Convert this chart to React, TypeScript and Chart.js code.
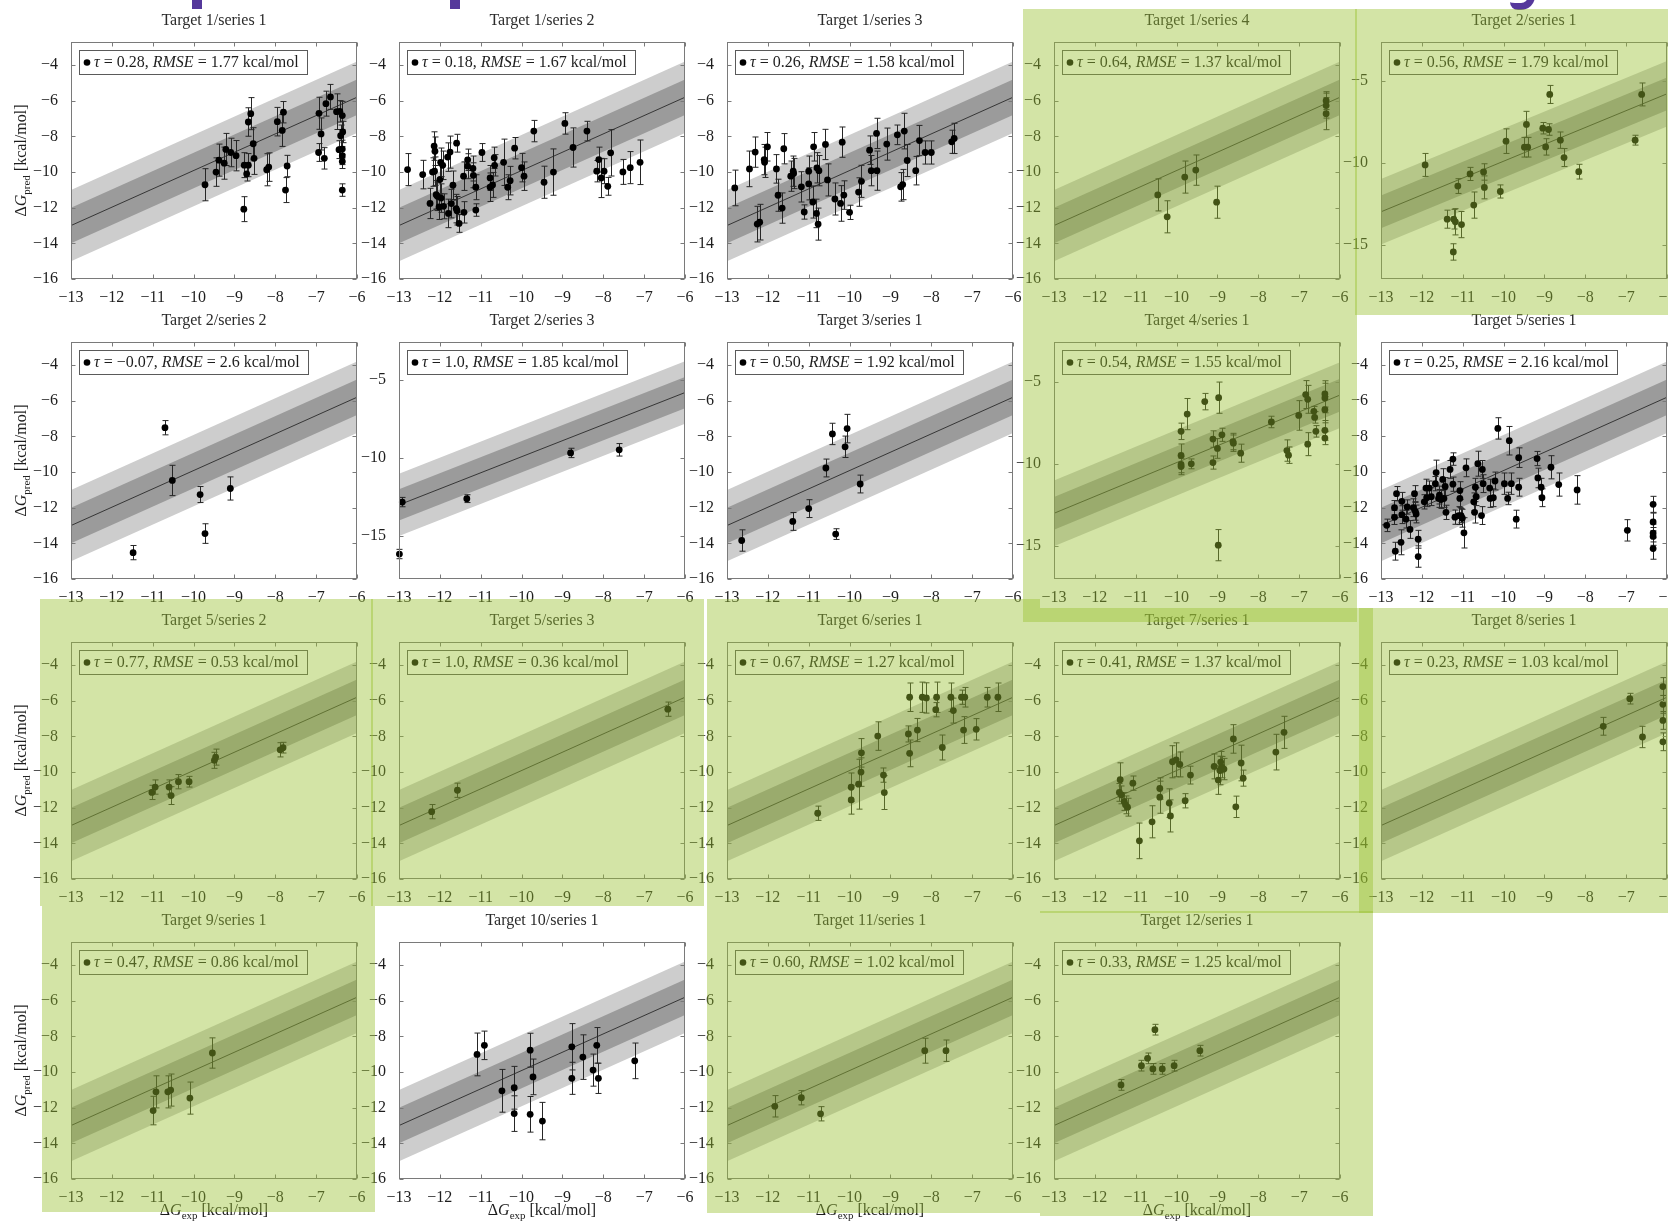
import React, { useEffect, useRef } from "react";
import { Chart, registerables } from "chart.js";

Chart.register(...registerables);

const SERIF = "'Liberation Serif', 'DejaVu Serif', 'Times New Roman', serif";
const INK = "#1d1d1d";
const FRAME = "#7a7a7a";

// ---------- axes ----------
const xTickValues = [-13, -12, -11, -10, -9, -8, -7, -6];
const yTicksFine = [-16, -14, -12, -10, -8, -6, -4];
const yTicksCoarse = [-15, -10, -5];
const xRange = [-13, -6];

// ---------- reference line and confidence bands ----------
const fitX = [-13, -6];
const fitY = [-13, -5.8];
const bandHalfWidths = [1, 2];

// ---------- data (exp, pred, error) ----------
const t1s1Exp = [-9.72, -9.45, -9.38, -9.25, -9.21, -9.09, -8.96, -8.77, -8.76, -8.7, -8.66, -8.66, -8.6, -8.54, -8.52, -8.21, -8.16, -7.95, -7.83, -7.8, -7.75, -7.71, -6.93, -6.94, -6.88, -6.8, -6.76, -6.65, -6.5, -6.44, -6.42, -6.4, -6.36, -6.35, -6.36, -6.36, -6.36, -6.36];
const t1s1Pred = [-10.71, -10.0, -9.33, -9.5, -8.73, -8.9, -9.08, -12.08, -9.61, -10.1, -9.61, -7.19, -6.72, -8.41, -9.23, -9.87, -9.72, -7.17, -7.66, -6.64, -11.01, -9.66, -6.7, -8.9, -7.86, -9.23, -6.16, -5.78, -6.61, -8.74, -6.59, -7.96, -6.83, -7.75, -8.71, -9.08, -9.4, -11.01];
const t1s1Err = [0.9, 0.8, 0.9, 0.9, 0.9, 0.8, 0.85, 0.7, 0.7, 0.4, 0.65, 0.8, 0.9, 0.9, 0.9, 0.9, 0.8, 0.8, 0.9, 0.6, 0.7, 0.6, 0.9, 0.5, 0.9, 0.6, 0.7, 0.7, 1.0, 0.5, 0.6, 0.6, 0.8, 0.6, 0.5, 0.5, 0.4, 0.35];

const t1s2Exp = [-12.79, -12.42, -12.24, -12.18, -12.14, -12.12, -12.13, -12.09, -12.06, -12.02, -12.0, -11.98, -11.93, -11.97, -11.91, -11.79, -11.81, -11.75, -11.72, -11.68, -11.6, -11.58, -11.59, -11.53, -11.42, -11.41, -11.32, -11.32, -11.19, -11.18, -11.12, -11.12, -10.97, -10.77, -10.77, -10.71, -10.67, -10.66, -10.44, -10.34, -10.28, -10.17, -10.0, -9.94, -9.7, -9.45, -9.22, -8.94, -8.74, -8.4, -8.16, -8.11, -8.05, -7.98, -7.89, -7.82, -7.52, -7.34, -7.1];
const t1s2Pred = [-9.86, -10.14, -11.76, -10.0, -8.54, -8.83, -9.95, -11.27, -11.36, -11.96, -10.42, -9.45, -9.62, -11.46, -11.92, -12.32, -9.16, -8.88, -11.77, -10.74, -12.05, -12.17, -8.38, -12.88, -10.23, -12.26, -9.31, -9.67, -9.8, -10.18, -10.85, -12.13, -8.9, -10.33, -10.85, -10.72, -9.2, -9.62, -9.45, -10.85, -10.48, -8.66, -9.75, -10.23, -7.7, -10.57, -10.0, -7.27, -8.62, -7.7, -9.95, -9.3, -10.33, -9.95, -10.8, -8.92, -9.99, -9.75, -9.45];
const t1s2Err = [0.9, 0.8, 0.85, 0.8, 0.8, 0.8, 0.8, 0.8, 0.8, 0.7, 0.8, 0.8, 0.8, 0.8, 0.7, 0.8, 0.8, 0.9, 0.8, 0.8, 0.8, 0.8, 0.5, 0.5, 0.8, 0.6, 0.6, 0.7, 0.7, 0.7, 0.7, 0.35, 0.5, 0.7, 0.8, 0.7, 0.6, 0.6, 1.3, 0.7, 0.8, 0.6, 0.8, 0.8, 0.6, 0.9, 1.3, 0.6, 1.1, 0.55, 0.6, 0.7, 1.1, 0.7, 0.5, 1.3, 0.7, 0.9, 1.25];

const t1s3Exp = [-12.81, -12.45, -12.31, -12.26, -12.2, -12.09, -12.08, -12.01, -11.79, -11.75, -11.65, -11.61, -11.44, -11.38, -11.37, -11.18, -11.11, -11.0, -11.0, -10.9, -10.88, -10.81, -10.77, -10.8, -10.75, -10.59, -10.54, -10.36, -10.22, -10.18, -10.14, -10.0, -9.78, -9.71, -9.51, -9.47, -9.34, -9.33, -9.09, -8.83, -8.75, -8.7, -8.66, -8.59, -8.38, -8.29, -8.15, -8.0, -7.5, -7.44];
const t1s3Pred = [-10.89, -9.82, -8.88, -12.92, -12.81, -9.3, -9.45, -8.58, -9.82, -11.3, -12.02, -8.69, -10.23, -9.95, -10.08, -10.83, -12.24, -10.66, -9.95, -11.68, -8.58, -12.32, -12.92, -9.76, -9.92, -8.45, -10.44, -11.51, -11.76, -8.32, -11.29, -12.26, -11.12, -10.52, -8.77, -9.92, -7.83, -9.92, -8.43, -7.91, -10.83, -10.7, -7.7, -9.35, -9.92, -8.23, -8.9, -8.9, -8.3, -8.11];
const t1s3Err = [1.0, 1.0, 0.85, 1.0, 1.0, 0.85, 0.85, 0.8, 0.8, 0.9, 0.85, 0.85, 0.85, 0.85, 0.85, 0.85, 0.4, 0.9, 0.85, 0.9, 0.8, 0.8, 0.9, 0.85, 0.85, 0.85, 0.9, 0.9, 1.0, 0.85, 0.8, 0.4, 0.8, 0.9, 0.8, 0.85, 0.85, 1.1, 0.9, 0.55, 0.8, 0.85, 1.0, 0.9, 0.8, 0.85, 0.65, 0.65, 0.65, 0.85];

const t1s4Exp = [-10.46, -10.23, -9.8, -9.53, -9.02, -6.34, -6.34, -6.34];
const t1s4Pred = [-11.28, -12.51, -10.28, -9.89, -11.69, -5.99, -6.27, -6.72];
const t1s4Err = [0.9, 0.9, 0.9, 0.85, 0.9, 0.5, 0.7, 0.9];

const t2s1Exp = [-11.92, -11.38, -11.22, -11.18, -11.12, -11.03, -11.23, -10.82, -10.73, -10.49, -10.47, -10.08, -9.94, -9.49, -9.44, -9.41, -9.04, -8.97, -8.9, -8.87, -8.61, -8.52, -8.16, -6.78, -6.62];
const t2s1Pred = [-10.14, -13.45, -13.45, -13.61, -11.43, -13.78, -15.45, -10.69, -12.59, -10.57, -11.51, -11.76, -8.69, -9.06, -7.67, -9.06, -7.9, -9.04, -7.98, -5.84, -8.63, -9.69, -10.55, -8.63, -5.84];
const t2s1Err = [0.7, 0.55, 0.6, 0.8, 0.45, 0.8, 0.5, 0.4, 0.8, 0.5, 0.7, 0.4, 0.75, 0.6, 0.8, 0.6, 0.35, 0.5, 0.35, 0.55, 0.5, 0.55, 0.45, 0.3, 0.7];

const t2s2Exp = [-11.48, -10.7, -10.52, -9.84, -9.72, -9.1];
const t2s2Pred = [-14.52, -7.51, -10.47, -11.26, -13.45, -10.92];
const t2s2Err = [0.4, 0.4, 0.85, 0.45, 0.55, 0.65];

const t2s3Exp = [-12.99, -12.92, -11.34, -8.8, -7.61];
const t2s3Pred = [-16.15, -12.82, -12.6, -9.67, -9.47];
const t2s3Err = [0.3, 0.3, 0.25, 0.3, 0.4];

const t3s1Exp = [-12.64, -11.39, -11.0, -10.58, -10.42, -10.34, -10.11, -10.06, -9.74];
const t3s1Pred = [-13.84, -12.77, -12.05, -9.77, -7.86, -13.48, -8.58, -7.56, -10.67];
const t3s1Err = [0.6, 0.5, 0.5, 0.5, 0.6, 0.3, 0.6, 0.8, 0.5];

const t4s1Exp = [-9.89, -9.89, -9.89, -9.89, -9.74, -9.64, -9.31, -9.11, -9.11, -9.0, -8.97, -8.89, -8.98, -8.62, -8.61, -8.43, -7.68, -7.3, -7.26, -7.01, -6.84, -6.79, -6.79, -6.64, -6.62, -6.59, -6.37, -6.37, -6.37, -6.37, -6.37];
const t4s1Pred = [-8.01, -9.48, -10.03, -10.15, -6.96, -9.99, -6.2, -8.48, -9.91, -9.05, -5.96, -8.22, -14.94, -8.63, -8.73, -9.34, -7.44, -9.18, -9.46, -7.04, -5.77, -6.06, -8.79, -6.79, -7.16, -8.01, -5.73, -5.98, -6.69, -7.95, -8.42];
const t4s1Err = [0.5, 0.7, 0.5, 0.5, 0.95, 0.3, 0.5, 0.5, 0.4, 0.6, 0.95, 0.4, 0.95, 0.5, 0.5, 0.55, 0.35, 0.65, 0.5, 0.9, 0.85, 0.85, 0.7, 0.3, 0.35, 0.35, 0.8, 0.9, 0.8, 0.6, 0.4];

const t5s1Exp = [-12.86, -12.67, -12.67, -12.65, -12.62, -12.51, -12.49, -12.49, -12.39, -12.36, -12.29, -12.21, -12.18, -12.16, -12.14, -12.09, -12.09, -11.94, -11.9, -11.88, -11.82, -11.77, -11.67, -11.65, -11.59, -11.57, -11.53, -11.49, -11.46, -11.43, -11.41, -11.31, -11.24, -11.24, -11.19, -11.1, -11.07, -11.07, -11.04, -11.01, -10.97, -10.92, -10.73, -10.71, -10.69, -10.67, -10.63, -10.54, -10.52, -10.5, -10.34, -10.33, -10.25, -10.21, -10.14, -9.98, -9.9, -9.86, -9.81, -9.69, -9.63, -9.63, -9.18, -9.16, -9.08, -9.06, -8.84, -8.65, -8.2, -6.97, -6.34, -6.34, -6.34, -6.34, -6.34];
const t5s1Pred = [-12.99, -12.0, -12.54, -14.44, -11.21, -13.94, -11.64, -12.39, -12.64, -11.96, -13.22, -12.0, -11.21, -12.2, -12.35, -13.77, -14.74, -11.67, -10.9, -11.44, -10.9, -11.38, -10.65, -10.03, -11.48, -11.29, -11.54, -10.41, -11.48, -10.81, -12.26, -9.85, -9.27, -10.68, -12.53, -12.44, -11.04, -11.48, -12.44, -12.59, -13.41, -9.76, -11.67, -12.26, -10.85, -11.38, -9.53, -12.44, -9.85, -10.65, -10.9, -11.48, -11.44, -10.5, -7.55, -10.65, -11.48, -8.24, -10.65, -12.64, -9.19, -10.85, -9.24, -10.33, -10.85, -11.44, -9.73, -10.7, -11.0, -13.27, -11.81, -12.8, -13.42, -13.61, -14.29];
const t5s1Err = [0.35, 0.4, 0.4, 0.5, 0.4, 0.7, 0.5, 0.5, 0.5, 0.4, 0.5, 0.5, 0.45, 0.5, 0.5, 0.5, 0.6, 0.4, 0.5, 0.5, 0.4, 0.5, 0.4, 0.7, 0.5, 0.5, 0.5, 0.6, 0.5, 0.5, 0.4, 0.5, 0.35, 0.4, 0.4, 0.5, 0.5, 0.5, 0.4, 0.5, 0.85, 0.5, 0.5, 0.6, 0.5, 0.5, 0.7, 0.5, 0.5, 0.5, 0.5, 0.5, 0.5, 0.5, 0.6, 0.6, 0.35, 0.8, 0.6, 0.5, 0.55, 0.5, 0.4, 0.55, 0.5, 0.5, 0.65, 0.65, 0.8, 0.6, 0.45, 0.5, 0.5, 0.5, 0.6];

const t5s2Exp = [-11.02, -10.94, -10.6, -10.55, -10.37, -10.11, -9.49, -9.46, -7.88, -7.81];
const t5s2Pred = [-11.14, -10.84, -10.84, -11.32, -10.54, -10.54, -9.34, -9.16, -8.75, -8.63];
const t5s2Err = [0.4, 0.4, 0.4, 0.5, 0.4, 0.3, 0.45, 0.45, 0.4, 0.3];

const t5s3Exp = [-12.2, -11.57, -6.42];
const t5s3Pred = [-12.22, -11.02, -6.47];
const t5s3Err = [0.4, 0.4, 0.4];

const t6s1Exp = [-10.78, -9.96, -9.96, -9.78, -9.72, -9.71, -9.31, -9.17, -9.15, -8.56, -8.53, -8.53, -8.34, -8.22, -8.12, -7.89, -7.87, -7.73, -7.52, -7.46, -7.26, -7.21, -7.18, -6.9, -6.63, -6.37];
const t6s1Pred = [-12.31, -10.85, -11.56, -10.68, -10.0, -8.92, -7.98, -10.17, -11.15, -7.86, -8.95, -5.8, -7.64, -5.8, -5.84, -6.5, -5.8, -8.62, -5.8, -6.55, -5.8, -7.64, -5.8, -7.6, -5.8, -5.8];
const t6s1Err = [0.4, 0.8, 0.8, 1.4, 0.8, 0.8, 0.8, 0.4, 0.95, 0.45, 0.75, 0.8, 0.65, 0.85, 0.85, 0.4, 0.85, 0.7, 0.8, 0.7, 0.4, 0.75, 0.55, 0.6, 0.55, 0.8];

const t7s1Exp = [-11.38, -11.4, -11.35, -11.28, -11.25, -11.2, -11.07, -10.91, -10.6, -10.41, -10.41, -10.18, -10.15, -10.1, -10.01, -9.92, -9.79, -9.66, -9.08, -8.98, -8.94, -8.92, -8.89, -8.84, -8.61, -8.55, -8.42, -8.37, -7.57, -7.37];
const t7s1Pred = [-10.43, -11.14, -11.28, -11.65, -11.84, -11.97, -10.62, -13.86, -12.79, -10.92, -11.41, -11.74, -12.46, -9.42, -9.31, -9.57, -11.61, -10.17, -9.68, -10.45, -9.91, -9.44, -9.72, -9.83, -8.14, -11.95, -9.49, -10.34, -8.88, -7.77];
const t7s1Err = [0.95, 0.5, 0.5, 0.5, 0.5, 0.5, 0.4, 1.0, 0.9, 0.6, 0.9, 0.8, 0.9, 0.9, 0.95, 0.7, 0.4, 0.5, 0.7, 0.8, 0.8, 0.6, 0.6, 0.6, 0.8, 0.6, 1.0, 0.45, 1.0, 0.9];

const t8s1Exp = [-7.56, -6.91, -6.6, -6.1, -6.1, -6.1, -6.1];
const t8s1Pred = [-7.43, -5.88, -8.03, -5.2, -6.2, -7.1, -8.3];
const t8s1Err = [0.5, 0.3, 0.6, 0.5, 0.5, 0.5, 0.5];

const t9s1Exp = [-10.99, -10.92, -10.63, -10.56, -10.09, -9.54];
const t9s1Pred = [-12.16, -11.11, -11.11, -11.01, -11.46, -8.93];
const t9s1Err = [0.8, 0.9, 0.9, 0.9, 0.9, 0.85];

const t10s1Exp = [-11.09, -10.91, -10.48, -10.18, -10.18, -9.79, -9.79, -9.72, -9.49, -8.77, -8.77, -8.5, -8.25, -8.16, -8.12, -7.23];
const t10s1Pred = [-9.01, -8.5, -11.05, -10.88, -12.33, -8.77, -12.37, -10.27, -12.75, -8.58, -10.35, -9.16, -9.89, -8.5, -10.35, -9.37];
const t10s1Err = [1.2, 0.8, 1.2, 1.2, 1.0, 0.95, 1.0, 1.0, 1.05, 1.3, 0.9, 1.25, 0.9, 1.0, 0.85, 1.0];

const t11s1Exp = [-11.83, -11.18, -10.71, -8.16, -7.64];
const t11s1Pred = [-11.92, -11.44, -12.34, -8.8, -8.8];
const t11s1Err = [0.6, 0.4, 0.4, 0.7, 0.6];

const t12s1Exp = [-11.36, -10.86, -10.71, -10.53, -10.58, -10.35, -10.06, -9.43];
const t12s1Pred = [-10.72, -9.64, -9.23, -7.62, -9.82, -9.82, -9.64, -8.8];
const t12s1Err = [0.3, 0.3, 0.3, 0.3, 0.3, 0.3, 0.3, 0.3];

// ---------- panel descriptors (row-major) ----------
const panelTitles = [
  "Target 1/series 1", "Target 1/series 2", "Target 1/series 3", "Target 1/series 4", "Target 2/series 1",
  "Target 2/series 2", "Target 2/series 3", "Target 3/series 1", "Target 4/series 1", "Target 5/series 1",
  "Target 5/series 2", "Target 5/series 3", "Target 6/series 1", "Target 7/series 1", "Target 8/series 1",
  "Target 9/series 1", "Target 10/series 1", "Target 11/series 1", "Target 12/series 1",
];
const panelTau = ["0.28", "0.18", "0.26", "0.64", "0.56", "\u22120.07", "1.0", "0.50", "0.54", "0.25", "0.77", "1.0", "0.67", "0.41", "0.23", "0.47", null, "0.60", "0.33"];
const panelRmse = ["1.77", "1.67", "1.58", "1.37", "1.79", "2.6", "1.85", "1.92", "1.55", "2.16", "0.53", "0.36", "1.27", "1.37", "1.03", "0.86", null, "1.02", "1.25"];
const panelYMin = [-16, -16, -16, -16, -17.1, -16, -17.75, -16, -17.0, -16, -16, -16, -16, -16, -16, -16, -16, -16, -16];
const panelYMax = [-2.7, -2.7, -2.7, -2.7, -2.64, -2.7, -2.56, -2.7, -2.57, -2.7, -2.7, -2.7, -2.7, -2.7, -2.7, -2.7, -2.7, -2.7, -2.7];
const panelYTicks = [
  yTicksFine, yTicksFine, yTicksFine, yTicksFine, yTicksCoarse,
  yTicksFine, yTicksCoarse, yTicksFine, yTicksCoarse, yTicksFine,
  yTicksFine, yTicksFine, yTicksFine, yTicksFine, yTicksFine,
  yTicksFine, yTicksFine, yTicksFine, yTicksFine,
];
const panelExp = [t1s1Exp, t1s2Exp, t1s3Exp, t1s4Exp, t2s1Exp, t2s2Exp, t2s3Exp, t3s1Exp, t4s1Exp, t5s1Exp, t5s2Exp, t5s3Exp, t6s1Exp, t7s1Exp, t8s1Exp, t9s1Exp, t10s1Exp, t11s1Exp, t12s1Exp];
const panelPred = [t1s1Pred, t1s2Pred, t1s3Pred, t1s4Pred, t2s1Pred, t2s2Pred, t2s3Pred, t3s1Pred, t4s1Pred, t5s1Pred, t5s2Pred, t5s3Pred, t6s1Pred, t7s1Pred, t8s1Pred, t9s1Pred, t10s1Pred, t11s1Pred, t12s1Pred];
const panelErr = [t1s1Err, t1s2Err, t1s3Err, t1s4Err, t2s1Err, t2s2Err, t2s3Err, t3s1Err, t4s1Err, t5s1Err, t5s2Err, t5s3Err, t6s1Err, t7s1Err, t8s1Err, t9s1Err, t10s1Err, t11s1Err, t12s1Err];

// ---------- layout ----------
const COL_LEFT = [71, 399, 727, 1054, 1381];
const ROW_TOP = [42, 342, 642, 942];
const PLOT_W = 286;
const PLOT_H = 237;
const AXIS_W = 70;
const TITLE_H = 42;
const XAXIS_H = 50;
const CW = AXIS_W + PLOT_W + AXIS_W;
const CH = TITLE_H + PLOT_H + XAXIS_H;

// highlight overlays [left, top, right, bottom]
const overlays = [
  [1023, 9, 1357, 622],
  [1355, 9, 1668, 315],
  [40, 599, 373, 906],
  [371, 599, 704, 906],
  [707, 599, 1040, 1213],
  [1040, 608, 1373, 913],
  [1359, 608, 1668, 913],
  [42, 906, 375, 1212],
  [1040, 911, 1373, 1216],
];
const OVERLAY_COLOR = "rgba(153, 192, 48, 0.43)";
const PURPLE = "#55389b";

// ---------- text helpers ----------
type Part = [string, "n" | "i" | "s"];
function partFont(style: string, size: number) {
  if (style === "i") return `italic ${size}px ${SERIF}`;
  if (style === "s") return `${Math.round(size * 0.7)}px ${SERIF}`;
  return `${size}px ${SERIF}`;
}
function measureRich(ctx: CanvasRenderingContext2D, parts: Part[], size: number) {
  let w = 0;
  for (const [t, s] of parts) {
    ctx.font = partFont(s, size);
    w += ctx.measureText(t).width;
  }
  return w;
}
function drawRich(ctx: CanvasRenderingContext2D, parts: Part[], x: number, y: number, size: number) {
  ctx.textAlign = "left";
  ctx.textBaseline = "middle";
  let cx = x;
  for (const [t, s] of parts) {
    ctx.font = partFont(s, size);
    ctx.fillText(t, cx, s === "s" ? y + size * 0.3 : y);
    cx += ctx.measureText(t).width;
  }
}
const fmtTick = (v: number) => (v < 0 ? "\u2212" + Math.abs(v) : String(v));

function Panel({ idx }: { idx: number }) {
  const ref = useRef<HTMLCanvasElement>(null);
  const col = idx % 5;
  const row = Math.floor(idx / 5);

  useEffect(() => {
    const canvas = ref.current;
    if (!canvas) return;
    const yTicks = panelYTicks[idx];
    const tau = panelTau[idx];
    const rmse = panelRmse[idx];
    const pts = panelExp[idx].map((x, i) => ({ x, y: panelPred[idx][i], e: panelErr[idx][i] }));
    const band = (off: number) => fitX.map((x, i) => ({ x, y: fitY[i] + off }));

    const decor = {
      id: "decor",
      beforeDatasetDraw(chart: any, args: any) {
        if (args.index !== 0) return;
        const { ctx, scales } = chart;
        const xs = scales.x;
        const ys = scales.y;
        ctx.save();
        ctx.strokeStyle = "#262626";
        ctx.lineWidth = 1;
        ctx.beginPath();
        for (const p of pts) {
          const px = Math.round(xs.getPixelForValue(p.x)) + 0.5;
          const t = ys.getPixelForValue(p.y + p.e);
          const b = ys.getPixelForValue(p.y - p.e);
          ctx.moveTo(px, t);
          ctx.lineTo(px, b);
          ctx.moveTo(px - 3, t);
          ctx.lineTo(px + 3, t);
          ctx.moveTo(px - 3, b);
          ctx.lineTo(px + 3, b);
        }
        ctx.stroke();
        ctx.restore();
      },
      afterDatasetsDraw(chart: any) {
        const { ctx, chartArea: a, scales } = chart;
        const xs = scales.x;
        const ys = scales.y;
        ctx.save();
        ctx.strokeStyle = FRAME;
        ctx.lineWidth = 1;
        const L = Math.round(a.left) + 0.5;
        const R = Math.round(a.right) - 0.5;
        const T = Math.round(a.top) + 0.5;
        const B = Math.round(a.bottom) - 0.5;
        ctx.strokeRect(L, T, R - L, B - T);
        ctx.beginPath();
        for (const v of xTickValues) {
          const px = Math.round(xs.getPixelForValue(v)) + 0.5;
          ctx.moveTo(px, B);
          ctx.lineTo(px, B - 4);
          ctx.moveTo(px, T);
          ctx.lineTo(px, T + 4);
        }
        for (const v of yTicks) {
          const py = Math.round(ys.getPixelForValue(v)) + 0.5;
          ctx.moveTo(L, py);
          ctx.lineTo(L + 4, py);
          ctx.moveTo(R, py);
          ctx.lineTo(R - 4, py);
        }
        ctx.stroke();

        if (tau !== null) {
          const parts: Part[] = [["\u03c4", "i"], [" = " + tau + ", ", "n"], ["RMSE", "i"], [" = " + rmse + " kcal/mol", "n"]];
          const size = 16;
          const tw = measureRich(ctx, parts, size);
          const bx = Math.round(a.left) + 8;
          const by = Math.round(a.top) + 8;
          const bw = Math.round(15 + tw + 8);
          const bh = 24;
          ctx.fillStyle = "#ffffff";
          ctx.fillRect(bx, by, bw, bh);
          ctx.strokeStyle = "#5a5a5a";
          ctx.strokeRect(bx + 0.5, by + 0.5, bw, bh);
          ctx.fillStyle = "#000";
          ctx.beginPath();
          ctx.arc(bx + 8, by + 12.5, 3.3, 0, Math.PI * 2);
          ctx.fill();
          ctx.fillStyle = INK;
          drawRich(ctx, parts, bx + 15, by + 13, size);
        }
        ctx.restore();
      },
      afterDraw(chart: any) {
        const { ctx, chartArea: a } = chart;
        ctx.save();
        ctx.fillStyle = INK;
        if (col === 0) {
          const parts: Part[] = [["\u0394", "n"], ["G", "i"], ["pred", "s"], [" [kcal/mol]", "n"]];
          const w = measureRich(ctx, parts, 16);
          ctx.translate(a.left - 49, (a.top + a.bottom) / 2);
          ctx.rotate(-Math.PI / 2);
          drawRich(ctx, parts, -w / 2, 0, 16);
          ctx.setTransform(1, 0, 0, 1, 0, 0);
        }
        if (row === 3) {
          const parts: Part[] = [["\u0394", "n"], ["G", "i"], ["exp", "s"], [" [kcal/mol]", "n"]];
          const w = measureRich(ctx, parts, 16);
          drawRich(ctx, parts, (a.left + a.right) / 2 - w / 2, a.bottom + 32, 16);
        }
        ctx.restore();
      },
    };

    const chart = new Chart(canvas, {
      type: "scatter",
      data: {
        datasets: [
          {
            data: pts,
            pointRadius: 3.4,
            pointBackgroundColor: "#000",
            pointBorderWidth: 0,
            pointBorderColor: "#000",
            showLine: false,
            clip: false,
          } as any,
          { data: band(0), showLine: true, borderColor: "#2a2a2a", borderWidth: 0.9, pointRadius: 0, fill: false } as any,
          { data: band(bandHalfWidths[0]), showLine: true, borderColor: "transparent", borderWidth: 0, pointRadius: 0, fill: "+1", backgroundColor: "#9b9b9b" } as any,
          { data: band(-bandHalfWidths[0]), showLine: true, borderColor: "transparent", borderWidth: 0, pointRadius: 0, fill: false } as any,
          { data: band(bandHalfWidths[1]), showLine: true, borderColor: "transparent", borderWidth: 0, pointRadius: 0, fill: "+1", backgroundColor: "#cdcdcd" } as any,
          { data: band(-bandHalfWidths[1]), showLine: true, borderColor: "transparent", borderWidth: 0, pointRadius: 0, fill: false } as any,
        ],
      },
      options: {
        responsive: false,
        animation: false,
        devicePixelRatio: 1,
        events: [],
        layout: { padding: 0, autoPadding: false } as any,
        plugins: {
          legend: { display: false },
          tooltip: { enabled: false },
          title: {
            display: true,
            text: panelTitles[idx],
            color: "#2b2b2b",
            font: { family: SERIF, size: 16, weight: "normal", lineHeight: "16px" } as any,
            padding: { top: 13, bottom: 13 },
          },
        },
        scales: {
          x: {
            type: "linear",
            min: xRange[0],
            max: xRange[1],
            grid: { display: false },
            border: { display: false },
            afterBuildTicks: (s: any) => {
              s.ticks = xTickValues.map((v) => ({ value: v }));
            },
            afterFit: (s: any) => {
              s.height = XAXIS_H;
            },
            ticks: {
              autoSkip: false,
              maxRotation: 0,
              padding: 3,
              color: INK,
              font: { family: SERIF, size: 16, lineHeight: "16px" } as any,
              callback: (v: any) => fmtTick(Number(v)),
            },
          },
          y: {
            type: "linear",
            position: "left",
            min: panelYMin[idx],
            max: panelYMax[idx],
            grid: { display: false },
            border: { display: false },
            afterBuildTicks: (s: any) => {
              s.ticks = yTicks.map((v) => ({ value: v }));
            },
            afterFit: (s: any) => {
              s.width = AXIS_W;
            },
            ticks: {
              autoSkip: false,
              padding: 5,
              color: INK,
              font: { family: SERIF, size: 16, lineHeight: "16px" } as any,
              callback: (v: any) => fmtTick(Number(v)),
            },
          },
          // empty spacer axis on the right so the title centres over the plot
          yRight: {
            type: "linear",
            position: "right",
            min: panelYMin[idx],
            max: panelYMax[idx],
            grid: { display: false },
            border: { display: false },
            ticks: { display: false },
            afterFit: (s: any) => {
              s.width = AXIS_W;
            },
          },
        },
      } as any,
      plugins: [decor],
    });
    return () => chart.destroy();
  }, [idx, col, row]);

  return (
    <canvas
      ref={ref}
      width={CW}
      height={CH}
      style={{
        position: "absolute",
        left: COL_LEFT[col] - AXIS_W,
        top: ROW_TOP[row] - TITLE_H,
        width: CW,
        height: CH,
        pointerEvents: "none",
      }}
    />
  );
}

export default function App() {
  return (
    <div
      style={{
        position: "fixed",
        left: 0,
        top: 0,
        width: 1668,
        height: 1222,
        background: "#ffffff",
        overflow: "hidden",
      }}
    >
      {/* fragments of a cropped slide heading above the figure */}
      <div style={{ position: "absolute", left: 192, top: 0, width: 10, height: 9, background: PURPLE }} />
      <div style={{ position: "absolute", left: 450, top: 0, width: 10, height: 9, background: PURPLE }} />
      <div
        style={{
          position: "absolute",
          left: 1510,
          top: -6,
          width: 18,
          height: 9,
          borderRight: `7px solid ${PURPLE}`,
          borderBottom: `7px solid ${PURPLE}`,
          borderBottomRightRadius: 14,
          borderBottomLeftRadius: 8,
        }}
      />
      {panelTitles.map((_, i) => (
        <Panel key={i} idx={i} />
      ))}
      {overlays.map(([l, t, r, b], i) => (
        <div
          key={"ov" + i}
          style={{
            position: "absolute",
            left: l,
            top: t,
            width: r - l,
            height: b - t,
            background: OVERLAY_COLOR,
            pointerEvents: "none",
            zIndex: 5,
          }}
        />
      ))}
    </div>
  );
}
